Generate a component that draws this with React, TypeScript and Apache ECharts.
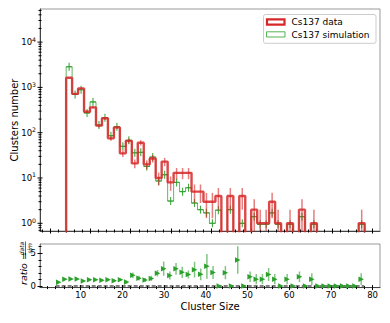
import React, { useEffect, useRef } from "react";
import * as echarts from "echarts";

// ---- data ----
const binEdges = [4.0, 5.48, 6.96, 8.44, 9.92, 11.4, 12.88, 14.36, 15.84, 17.32, 18.8, 20.28, 21.76, 23.24, 24.72, 26.2, 27.68, 29.16, 30.64, 32.12, 33.6, 35.08, 36.56, 38.04, 39.52, 41.0, 42.48, 43.96, 45.44, 46.92, 48.4, 49.88, 51.36, 52.84, 54.32, 55.8, 57.28, 58.76, 60.24, 61.72, 63.2, 64.68, 66.16, 67.64, 69.12, 70.6, 72.08, 73.56, 75.04, 76.52, 78.0];

const dataCounts = [1630, 720, 950, 291, 363, 143, 208, 75, 131, 35, 66, 21, 60, 20, 27, 10, 23, 8, 13, 13, 13, 5, 5, 3, 3, 4, 0, 4, 0, 4, 0, 2, 1, 1, 3, 1, 0, 1, 0, 2, 0, 1, 0, 0, 0, 0, 0, 0, 0, 1];
const dataErrors = [40, 27, 31, 17, 19, 12, 14, 8.7, 11, 5.9, 8.1, 4.6, 7.7, 4.5, 5.2, 3.2, 4.8, 2.8, 3.6, 3.6, 3.6, 2.2, 2.2, 1.7, 1.7, 2, 0, 2, 0, 2, 0, 1.4, 1, 1, 1.7, 1, 0, 1, 0, 1.4, 0, 1, 0, 0, 0, 0, 0, 0, 0, 1];
const simCounts = [2860, 700, 890, 272, 478, 147, 214, 86, 135, 50, 68, 36, 37, 18, 29, 8.6, 11.8, 3.1, 8.0, 5.0, 6.1, 2.8, 2.0, 1.7, 1.0, 1.95, 0, 2.0, 0, 1.0, 0, 1.4, 0.95, 0.95, 1.7, 0.95, 0, 0.95, 0, 1.4, 0, 0.95, 0, 0, 0, 0, 0, 0, 0, 0.95];
const ratioValues = [0.59, 1.04, 1.07, 1.07, 0.76, 0.97, 0.97, 0.87, 0.97, 0.8, 0.97, 0.6, 1.63, 1.2, 0.92, 1.15, 1.94, 2.65, 1.6, 2.62, 2.09, 1.75, 2.5, 1.78, 3.0, 2.06, 0, 2.04, 0, 3.98, 0, 1.43, 1.05, 1.05, 1.75, 1.05, 0, 1.05, 0, 1.43, 0, 1.05, 0, 0, 0, 0, 0, 0, 0, 1.05];
const ratioErrors = [0.05, 0.08, 0.07, 0.1, 0.08, 0.12, 0.1, 0.15, 0.12, 0.2, 0.18, 0.2, 0.45, 0.35, 0.3, 0.4, 0.5, 1.1, 0.6, 0.9, 0.85, 0.6, 1.2, 0.9, 1.9, 1.0, 0, 1.0, 0, 2.1, 0, 0.8, 0.8, 0.8, 1.0, 0.8, 0, 0.8, 0, 0.8, 0, 0.9, 0, 0, 0, 0, 0, 0, 0, 0.9];

const topXMajorTicks = [0, 10, 20, 30, 40, 50, 60, 70, 80];
const bottomXTickLabels = [10, 20, 30, 40, 50, 60, 70, 80];
const ratioYTickLabels = [0, 5];
const ratioYMinorTicks = [1, 2, 3, 4, 6];
const logMajorTicks = [1, 10, 100, 1000, 10000];

const legendLabels = ["Cs137 data", "Cs137 simulation"];

// ---- styling / layout ----
const FONT = "DejaVu Sans";
const RED = "#d62728";
const GREEN = "#2ca02c";
const TOP_X: [number, number] = [-2.48, 81.8];
const BOT_X: [number, number] = [0.24, 81.77];
const TOP_Y: [number, number] = [0.676, 53800];
const BOT_Y: [number, number] = [-0.245, 6.42];
const FLOOR = 0.05;
const TICK_FS = 8.5;

const centers = dataCounts.map((_, k) => (binEdges[k] + binEdges[k + 1]) / 2);

const evenSteps = (from: number, to: number, step: number, skipEvery: number) => {
  const out: number[] = [];
  for (let v = from; v <= to + 1e-9; v += step) {
    if (Math.abs(v / skipEvery - Math.round(v / skipEvery)) > 1e-9) out.push(v);
  }
  return out;
};
const topXMinor = evenSteps(-2, 80, 2, 10);
const botXMinor = evenSteps(2, 80, 2, 10);
const logMinorTicks: number[] = [];
for (let e = -1; e <= 4; e++) {
  for (let m = 2; m <= 9; m++) {
    const v = m * Math.pow(10, e);
    if (v > TOP_Y[0] && v < TOP_Y[1]) logMinorTicks.push(v);
  }
}

const stepLine = (counts: number[]) => {
  const pts: number[][] = [[binEdges[0], FLOOR]];
  counts.forEach((c, k) => {
    const v = c > 0 ? c : FLOOR;
    pts.push([binEdges[k], v], [binEdges[k + 1], v]);
  });
  pts.push([binEdges[binEdges.length - 1], FLOOR]);
  return pts;
};

const tickAxisX = (gridIndex: number, range: [number, number], values: number[], len: number, inside: boolean) => ({
  type: "value", gridIndex, min: range[0], max: range[1], position: "bottom",
  axisLine: { show: false, onZero: false },
  axisTick: { show: true, inside, length: len, customValues: values, lineStyle: { color: "#000", width: 1 } },
  axisLabel: { show: false },
  splitLine: { show: false },
});
const tickAxisY = (gridIndex: number, range: [number, number], values: number[], len: number, inside: boolean) => ({
  type: "value", gridIndex, min: range[0], max: range[1], position: "left",
  axisLine: { show: false, onZero: false },
  axisTick: { show: true, inside, length: len, customValues: values, lineStyle: { color: "#000", width: 1 } },
  axisLabel: { show: false },
  splitLine: { show: false },
});

const buildOption = () => {
  const xAxis = [
    {
      type: "value", gridIndex: 0, min: TOP_X[0], max: TOP_X[1], position: "bottom",
      axisLine: { show: true, onZero: false, lineStyle: { color: "#444", width: 1 } },
      axisTick: { show: true, inside: false, length: 2.5, customValues: topXMajorTicks, lineStyle: { color: "#000", width: 1 } },
      axisLabel: { show: false },
      splitLine: { show: false },
    },
    tickAxisX(0, TOP_X, topXMajorTicks, 2.5, true),
    tickAxisX(0, TOP_X, topXMinor, 1.5, false),
    tickAxisX(0, TOP_X, topXMinor, 1.5, true),
    {
      type: "value", gridIndex: 1, min: BOT_X[0], max: BOT_X[1], position: "bottom",
      axisLine: { show: true, onZero: false, lineStyle: { color: "#444", width: 1 } },
      axisTick: { show: true, inside: false, length: 2.5, customValues: bottomXTickLabels, lineStyle: { color: "#000", width: 1 } },
      axisLabel: { show: true, customValues: bottomXTickLabels, fontSize: TICK_FS, color: "#000", fontFamily: FONT, margin: 3 },
      splitLine: { show: false },
      name: "Cluster Size", nameLocation: "middle", nameGap: 14,
      nameTextStyle: { fontSize: 10, color: "#000", fontFamily: FONT },
    },
    tickAxisX(1, BOT_X, bottomXTickLabels, 2.5, true),
    tickAxisX(1, BOT_X, botXMinor, 1.5, false),
    tickAxisX(1, BOT_X, botXMinor, 1.5, true),
  ];

  const yAxis = [
    {
      type: "log", logBase: 10, gridIndex: 0, min: TOP_Y[0], max: TOP_Y[1], position: "left",
      axisLine: { show: true, onZero: false, lineStyle: { color: "#444", width: 1 } },
      axisTick: { show: false },
      axisLabel: {
        show: true, color: "#000", fontFamily: FONT, margin: 4,
        formatter: (v: number) => {
          const e = Math.log10(v);
          if (Math.abs(e - Math.round(e)) > 1e-6) return "";
          return "{b|10}{s|" + Math.round(e) + "}";
        },
        rich: {
          b: { fontSize: TICK_FS, color: "#000", fontFamily: FONT },
          s: { fontSize: 6.2, color: "#000", fontFamily: FONT, padding: [0, 0, 6, 0] },
        },
      },
      splitLine: { show: false },
      name: "Clusters number", nameLocation: "middle", nameGap: 21, nameRotate: 90,
      nameMoveOverlap: false,
      nameTextStyle: { fontSize: 10, color: "#000", fontFamily: FONT },
    },
    {
      type: "value", gridIndex: 1, min: BOT_Y[0], max: BOT_Y[1], position: "left",
      axisLine: { show: true, onZero: false, lineStyle: { color: "#777", width: 1 } },
      axisTick: { show: true, inside: false, length: 2.5, customValues: ratioYTickLabels, lineStyle: { color: "#000", width: 1 } },
      axisLabel: { show: true, customValues: ratioYTickLabels, fontSize: TICK_FS, color: "#000", fontFamily: FONT, margin: 4 },
      splitLine: { show: false },
    },
    tickAxisY(1, BOT_Y, ratioYTickLabels, 2.5, true),
    tickAxisY(1, BOT_Y, ratioYMinorTicks, 1.5, false),
    tickAxisY(1, BOT_Y, ratioYMinorTicks, 1.5, true),
  ];

  const logTickData = [
    ...logMajorTicks.map((v) => [0, v, 2.5]),
    ...logMinorTicks.map((v) => [0, v, 1.5]),
  ];

  const redErrData = dataCounts
    .map((c, k) => (c > 0 ? [centers[k], c, dataErrors[k]] : null))
    .filter((d) => d !== null);
  const simMarkData = simCounts
    .map((c, k) => (c > 0 ? [centers[k], c] : null))
    .filter((d) => d !== null);
  const ratioErrData = ratioValues
    .map((r, k) => (ratioErrors[k] > 0 ? [centers[k], r, ratioErrors[k]] : null))
    .filter((d) => d !== null);

  const series: any[] = [
    {
      type: "line", name: legendLabels[1], xAxisIndex: 0, yAxisIndex: 0,
      data: stepLine(simCounts), symbol: "none", showSymbol: false, clip: true,
      lineStyle: { color: GREEN, width: 1, opacity: 0.75 }, z: 2, silent: true,
    },
    {
      type: "custom", xAxisIndex: 0, yAxisIndex: 0, data: simMarkData, z: 3, silent: true, clip: true,
      encode: { x: 0, y: 1 },
      renderItem: (params: any, api: any) => {
        const p = api.coord([api.value(0), api.value(1)]);
        const st = { stroke: GREEN, lineWidth: 1.1, opacity: 0.9 };
        return {
          type: "group",
          children: [
            { type: "line", shape: { x1: p[0] - 3, y1: p[1], x2: p[0] + 3, y2: p[1] }, style: st },
            { type: "line", shape: { x1: p[0], y1: p[1] - 4, x2: p[0], y2: p[1] + 4 }, style: st },
          ],
        };
      },
    },
    {
      type: "line", name: legendLabels[0], xAxisIndex: 0, yAxisIndex: 0,
      data: stepLine(dataCounts), symbol: "none", showSymbol: false, clip: true,
      lineStyle: { color: RED, width: 2.4, opacity: 0.85 }, z: 4, silent: true,
    },
    {
      type: "custom", xAxisIndex: 0, yAxisIndex: 0, data: redErrData, z: 5, silent: true, clip: true,
      encode: { x: 0, y: 1 },
      renderItem: (params: any, api: any) => {
        const cs = params.coordSys;
        const x = api.value(0), n = api.value(1), e = api.value(2);
        const top = api.coord([x, n + e]);
        const bot = api.coord([x, Math.max(n - e, 0.01)]);
        const yb = Math.min(bot[1], cs.y + cs.height);
        return {
          type: "line",
          shape: { x1: top[0], y1: top[1], x2: top[0], y2: yb },
          style: { stroke: "rgba(214,39,40,0.6)", lineWidth: 1.5 },
        };
      },
    },
    {
      type: "custom", xAxisIndex: 0, yAxisIndex: 0, data: logTickData, z: 10, silent: true, clip: false,
      encode: { x: 0, y: 1 },
      renderItem: (params: any, api: any) => {
        const cs = params.coordSys;
        const y = api.coord([0, api.value(1)])[1];
        const h = api.value(2);
        return {
          type: "line",
          shape: { x1: cs.x - h, y1: y, x2: cs.x + h, y2: y },
          style: { stroke: "#000", lineWidth: 1 },
        };
      },
    },
    {
      type: "line", xAxisIndex: 4, yAxisIndex: 1,
      data: [[binEdges[0], 0], [binEdges[binEdges.length - 1], 0]],
      symbol: "none", showSymbol: false, silent: true, z: 2,
      lineStyle: { color: "#000", width: 1, type: [4, 2] },
    },
    {
      type: "custom", xAxisIndex: 4, yAxisIndex: 1, data: ratioErrData, z: 3, silent: true, clip: true,
      encode: { x: 0, y: 1 },
      renderItem: (params: any, api: any) => {
        const x = api.value(0), r = api.value(1), e = api.value(2);
        const top = api.coord([x, r + e]);
        const bot = api.coord([x, r - e]);
        return {
          type: "line",
          shape: { x1: top[0], y1: top[1], x2: top[0], y2: bot[1] },
          style: { stroke: "rgba(44,160,44,0.6)", lineWidth: 1.5 },
        };
      },
    },
    {
      type: "scatter", xAxisIndex: 4, yAxisIndex: 1,
      data: ratioValues.map((r, k) => [centers[k], r]),
      symbol: "triangle", symbolRotate: -90, symbolSize: [5.5, 5.5], z: 4, silent: true,
      itemStyle: { color: GREEN, opacity: 1 },
    },
  ];

  const txt = (text: string, x: number, y: number, font: string, align = "left") => ({
    type: "text", x, y,
    style: { text, font, fill: "#000", textAlign: align, textVerticalAlign: "middle", align, verticalAlign: "middle" },
  });

  const graphic = [
    // legend
    {
      type: "rect", shape: { x: 263.5, y: 14.5, width: 112.5, height: 28.8, r: 2 },
      style: { fill: "rgba(255,255,255,0.85)", stroke: "#cccccc", lineWidth: 1 }, z: 20,
    },
    {
      type: "rect", shape: { x: 267, y: 19.3, width: 17.5, height: 5.4 },
      style: { fill: "#fff", stroke: RED, lineWidth: 2.2 }, z: 21,
    },
    {
      type: "rect", shape: { x: 266.5, y: 31.8, width: 18.5, height: 5.2 },
      style: { fill: "#fff", stroke: "rgba(44,160,44,0.8)", lineWidth: 1 }, z: 21,
    },
    { ...txt(legendLabels[0], 291.5, 22.2, `9px "${FONT}"`), z: 21 },
    { ...txt(legendLabels[1], 291.5, 34.6, `9px "${FONT}"`), z: 21 },
    // ratio label (rotated)
    {
      type: "group", x: 23.5, y: 285, rotation: Math.PI / 2, z: 20,
      children: [
        txt("ratio =", 0, 0, `italic 9.5px "${FONT}"`),
        txt("data", 36.5, -2, `italic 6px "${FONT}"`, "center"),
        { type: "line", shape: { x1: 30, y1: 2, x2: 43.5, y2: 2 }, style: { stroke: "#000", lineWidth: 0.6 } },
        txt("sim", 36.5, 5.6, `italic 6px "${FONT}"`, "center"),
      ],
    },
  ];

  return {
    animation: false,
    backgroundColor: "#ffffff",
    textStyle: { fontFamily: FONT },
    grid: [
      { left: 40, top: 9, width: 340, height: 222, show: true, borderColor: "#999", borderWidth: 1, backgroundColor: "transparent", containLabel: false, outerBoundsMode: "none" },
      { left: 40, top: 244, width: 340, height: 43.6, show: true, borderColor: "#999", borderWidth: 1, backgroundColor: "transparent", containLabel: false, outerBoundsMode: "none" },
    ],
    xAxis,
    yAxis,
    series,
    graphic,
  };
};

export default function App() {
  const ref = useRef<HTMLDivElement>(null);
  useEffect(() => {
    if (!ref.current) return;
    const chart = echarts.init(ref.current, undefined, { renderer: "svg" });
    chart.setOption(buildOption() as any);
    return () => chart.dispose();
  }, []);
  return (
    <div
      ref={ref}
      style={{ position: "fixed", left: 0, top: 0, width: 390, height: 323, background: "#fff" }}
    />
  );
}
